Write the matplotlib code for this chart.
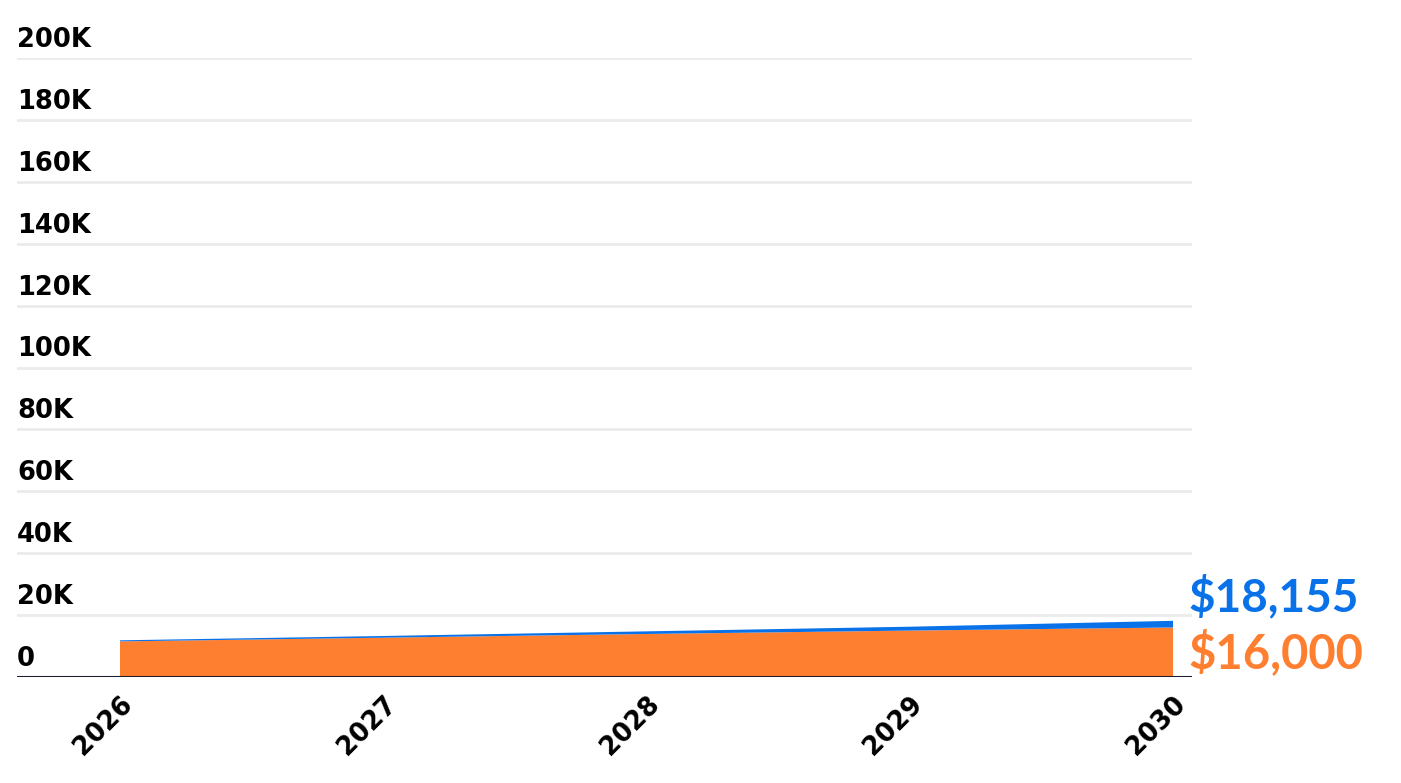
import matplotlib.pyplot as plt
from matplotlib.ticker import FixedLocator

# values
years = [2026, 2027, 2028, 2029, 2030]
base = [11500, 12700, 13900, 15000, 16000]      # orange layer
extra = [350, 550, 850, 1250, 2155]             # blue layer on top
y_ticks = [0, 20000, 40000, 60000, 80000, 100000, 120000, 140000, 160000, 180000, 200000]
y_labels = ['0', '20K', '40K', '60K', '80K', '100K', '120K', '140K', '160K', '180K', '200K']

orange = '#FF7F30'
blue = '#0A72E8'
tick_font = ['DejaVu Sans']
label_font = ['Lato', 'DejaVu Sans']

fig = plt.figure(figsize=(14.01, 7.83), dpi=100)
ax = fig.add_axes([17 / 1401, 1 - 677 / 783, (1192 - 17) / 1401, (677 - 58) / 783])

ax.stackplot(years, base, extra, colors=[orange, blue], linewidth=0)

ax.set_xlim(2026 - 103 / 263.25, 2030 + 19 / 263.25)
ax.set_ylim(0, 200000)

# gridlines
for v in y_ticks[1:]:
    ax.axhline(v, color='#EBEBEB', lw=2, zorder=0)
ax.axhline(0, color='#1C1B2E', lw=2.2, zorder=3)

# y labels sit above the gridlines
for v, lab in zip(y_ticks, y_labels):
    ax.annotate(lab, xy=(0, v), xycoords=('axes fraction', 'data'),
                xytext=(0, 5), textcoords='offset pixels',
                ha='left', va='bottom', fontsize=18.5, fontweight='bold',
                family=tick_font, color='black')

ax.set_yticks([])
ax.xaxis.set_major_locator(FixedLocator(years))
ax.set_xticklabels([str(y) for y in years], rotation=45, ha='right',
                   rotation_mode='anchor', fontsize=18.5, fontweight='bold',
                   family=tick_font)
ax.tick_params(axis='x', length=0, pad=10)
for s in ax.spines.values():
    s.set_visible(False)

# end labels
total = base[-1] + extra[-1]
ax.annotate('$' + format(total, ','), xy=(1, total), xycoords=('axes fraction', 'data'),
            xytext=(-4, 24), textcoords='offset pixels', ha='left', va='center',
            fontsize=33, fontweight='bold', family=label_font, color=blue)
ax.annotate('$' + format(base[-1], ','), xy=(1, base[-1]), xycoords=('axes fraction', 'data'),
            xytext=(-4, -25), textcoords='offset pixels', ha='left', va='center',
            fontsize=34, fontweight='bold', family=label_font, color=orange)

fig.savefig('out.png', dpi=100)
